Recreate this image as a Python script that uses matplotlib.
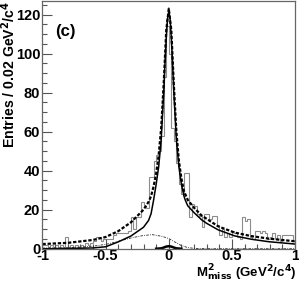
import numpy as np
import matplotlib
matplotlib.use("Agg")
import matplotlib.pyplot as plt
from matplotlib.ticker import MultipleLocator

plt.rcParams['font.family'] = ['Liberation Sans', 'DejaVu Sans']

# ---- data ----
bin_edges_lo = -1.0
bin_width = 0.02
counts = [2, 2, 1, 2, 1, 2, 1, 2, 1, 6,
          1, 2, 1, 2, 1, 2, 1, 3, 2, 3,
          4, 6, 6, 4, 5, 5, 5, 5, 7, 8,
          8, 8, 8, 8, 9, 16, 10, 16, 16, 24,
          22, 21, 37, 37, 45, 48, 50, 58, 88, 114,
          100, 62, 55, 44, 33, 28, 39, 39, 16, 23,
          22, 18, 17, 11, 18, 18, 15, 17, 17, 12,
          7, 10, 6, 8, 6, 9, 8, 6, 5, 16,
          14, 15, 6, 5, 9, 9, 8, 9, 8, 5,
          6, 8, 5, 7, 4, 7, 7, 7, 7, 4]

total_x = [-1.0, -0.8, -0.6, -0.5, -0.4, -0.3, -0.2, -0.16, -0.14, -0.12, -0.10, -0.08,
           -0.06, -0.04, -0.02, 0.0, 0.02, 0.04, 0.06, 0.08, 0.10, 0.12, 0.15, 0.2,
           0.26, 0.39, 0.52, 0.65, 0.79, 1.0]
total_y = [2.4, 3.0, 4.5, 6.0, 9.0, 13.5, 20.0, 24.0, 27.0, 32.0, 38.5, 48.0,
           62.0, 85.0, 112.0, 123.0, 112.0, 84.0, 60.0, 45.0, 36.0, 29.5, 25.0, 21.0,
           17.0, 11.5, 8.3, 6.5, 5.2, 3.8]

sig_x = [-1.0, -0.8, -0.6, -0.5, -0.4, -0.3, -0.2, -0.16, -0.14, -0.12, -0.10, -0.08,
         -0.06, -0.05, -0.04, -0.03, -0.02, -0.01, 0.0, 0.01, 0.02, 0.03, 0.04, 0.05,
         0.06, 0.08, 0.10, 0.12, 0.13, 0.15, 0.2, 0.26, 0.3, 0.39, 0.52, 0.65, 0.79, 1.0]
sig_y = [0.0, 0.1, 0.4, 1.0, 3.5, 6.5, 11.0, 14.5, 18.0, 25.0, 33.0, 42.0,
         56.0, 68.0, 80.0, 95.0, 108.0, 118.0, 121.5, 118.0, 108.0, 95.0, 80.0, 68.0,
         56.0, 42.0, 33.0, 27.0, 25.0, 22.0, 18.5, 14.8, 13.0, 9.7, 6.6, 4.9, 3.6, 2.4]

bg_x = [-1.0, -0.8, -0.7, -0.6, -0.5, -0.4, -0.3, -0.2, -0.13, -0.05, 0.0, 0.05,
        0.1, 0.15, 0.2, 0.3, 1.0]
bg_y = [0.3, 0.5, 0.8, 1.3, 2.2, 3.8, 5.5, 6.8, 7.2, 6.3, 5.2, 3.4,
        1.6, 0.6, 0.2, 0.0, 0.0]

peak_x = [-0.1, -0.06, -0.04, -0.02, 0.0, 0.02, 0.04, 0.06, 0.1]
peak_y = [0.0, 0.2, 0.6, 1.1, 1.3, 1.1, 0.6, 0.2, 0.0]

# ---- figure ----
fig = plt.figure(figsize=(2.99, 2.82), dpi=100)
ax = fig.add_axes([0.142, 0.118, 0.845, 0.879])

edges = bin_edges_lo + bin_width * np.arange(len(counts) + 1)
ax.stairs(counts, edges, color='#8c8c8c', lw=0.8)

ax.plot(bg_x, bg_y, color='#222222', lw=0.6, ls=(0, (3, 1.5, 1, 1.5)))
ax.plot(peak_x, peak_y, color='black', lw=1.8)
ax.plot(sig_x, sig_y, color='black', lw=1.1)
ax.plot(total_x, total_y, color='black', lw=1.6, ls=(0, (1.5, 0.8)))

ax.set_xlim(-1, 1)
ax.set_ylim(0, 127)
ax.xaxis.set_major_locator(MultipleLocator(0.5))
ax.xaxis.set_minor_locator(MultipleLocator(0.1))
ax.yaxis.set_major_locator(MultipleLocator(20))
ax.yaxis.set_minor_locator(MultipleLocator(5))
ax.set_xticks([-1, -0.5, 0, 0.5, 1])
ax.set_xticklabels(['-1', '-0.5', '0', '0.5', '1'])

ax.tick_params(which='both', direction='in', top=False, right=False,
               color='#555555', width=0.8)
ax.tick_params(which='major', length=7, labelsize=10.5)
ax.tick_params(axis='y', which='major', pad=1.5)
ax.tick_params(axis='x', which='major', pad=0.5)
ax.tick_params(which='minor', length=3.5)
for lab in ax.get_xticklabels() + ax.get_yticklabels():
    lab.set_fontweight('bold')
for s in ax.spines.values():
    s.set_color('#666666')
    s.set_linewidth(0.9)

ax.set_ylabel('Entries / 0.02 GeV$^{\\mathbf{2}}$/c$^{\\mathbf{4}}$', fontsize=10.2,
              fontweight='bold')
ax.yaxis.set_label_coords(-0.133, 1.0)
ax.yaxis.label.set_ha('right')
ax.yaxis.label.set_va('center')

ax.set_xlabel('M$^{\\mathbf{2}}_{\\mathbf{miss}}$ (GeV$^{\\mathbf{2}}$/c$^{\\mathbf{4}}$)',
              fontsize=9.5, fontweight='bold')
ax.xaxis.set_label_coords(1.005, -0.114)
ax.xaxis.label.set_ha('right')
ax.xaxis.label.set_va('baseline')

ax.text(0.05, 0.86, '(c)', transform=ax.transAxes, fontsize=12, fontweight='bold')

fig.savefig('out.png', dpi=100)
